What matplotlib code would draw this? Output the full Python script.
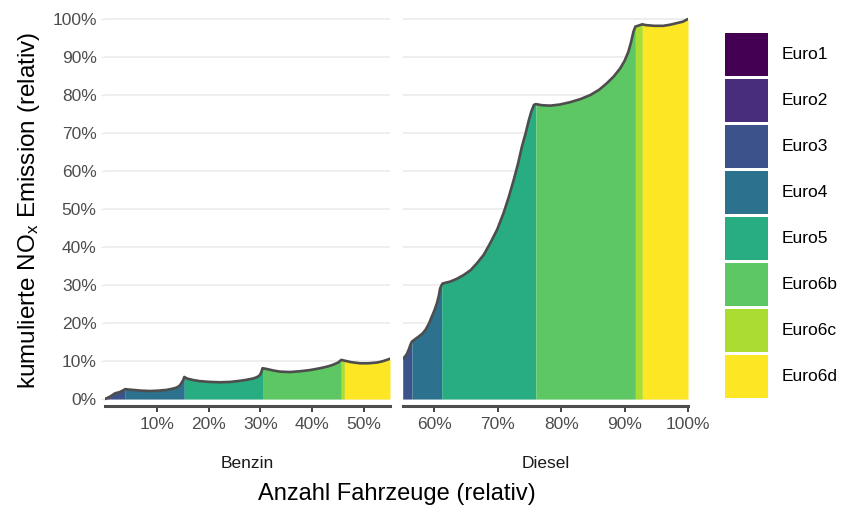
import matplotlib
matplotlib.use('Agg')
import matplotlib.pyplot as plt
from matplotlib.patches import Rectangle
from matplotlib.ticker import FuncFormatter

plt.rcParams['font.family'] = ['Liberation Sans', 'DejaVu Sans']
plt.rcParams['mathtext.default'] = 'regular'

# Klassen und Farben (viridis)
classes = ['Euro1', 'Euro2', 'Euro3', 'Euro4', 'Euro5', 'Euro6b', 'Euro6c', 'Euro6d']
colors = ['#440154', '#472D7B', '#3B528B', '#2C728E', '#27AD81', '#5DC863', '#AADC32', '#FDE725']

# Benzin: kumulierte Kurve (x = Anzahl %, y = NOx %)
benzin_x = [0.0, 0.3, 1.0, 1.95, 2.8, 3.4, 3.9,
            4.5, 5.4, 7.0, 8.7, 10.3, 11.9, 13.0, 13.8, 14.4, 14.8, 15.1, 15.3,
            15.8, 17.0, 18.3, 20.2, 22.2, 24.2, 26.1, 27.5, 28.6, 29.4, 29.9, 30.2, 30.4,
            31.2, 32.5, 33.8, 35.7, 37.6, 39.5, 41.5, 42.8, 43.8, 44.5, 45.0, 45.6,
            46.2, 47.5, 49.2, 50.8, 52.5, 53.5, 54.4, 55.0]
benzin_y = [0.0, 0.2, 0.65, 1.5, 1.8, 2.2, 2.6,
            2.5, 2.4, 2.2, 2.1, 2.2, 2.4, 2.7, 3.0, 3.5, 4.3, 5.0, 5.8,
            5.4, 5.0, 4.7, 4.5, 4.4, 4.5, 4.8, 5.1, 5.4, 5.8, 6.3, 7.2, 8.1,
            7.9, 7.5, 7.2, 7.1, 7.3, 7.6, 8.1, 8.5, 8.9, 9.3, 9.6, 10.3,
            10.1, 9.7, 9.4, 9.4, 9.6, 9.9, 10.3, 10.6]
benzin_breaks = [0.0, 0.3, 1.0, 3.9, 15.3, 30.4, 45.6, 46.2, 55.0]
benzin_classes = ['Euro1', 'Euro2', 'Euro3', 'Euro4', 'Euro5', 'Euro6b', 'Euro6c', 'Euro6d']

# Diesel
diesel_x = [55.0, 55.4, 55.7, 56.0, 56.2, 56.45,
            57.0, 57.5, 58.1, 58.6, 59.1, 59.6, 60.0, 60.4, 60.7, 60.9, 61.15,
            61.3, 62.5, 63.5, 64.6, 65.7, 66.7, 67.8, 68.8, 69.9, 70.9, 71.7,
            72.5, 73.2, 73.8, 74.4, 74.9, 75.3, 75.7, 76.0,
            77.0, 78.3, 79.8, 81.4, 83.0, 84.6, 86.0, 87.2, 88.3, 89.3, 90.0,
            90.6, 91.0, 91.4, 91.7,
            92.8, 93.3, 94.7, 96.1, 97.2, 98.2, 99.2, 100.0]
diesel_y = [10.6, 11.2, 12.0, 13.2, 14.2, 15.1,
            15.8, 16.4, 17.2, 18.2, 19.7, 21.7, 23.3, 25.2, 27.2, 29.1, 30.0,
            30.4, 30.9, 31.6, 32.6, 33.9, 35.7, 38.0, 41.0, 44.6, 48.9, 53.0,
            57.6, 62.0, 66.4, 70.0, 73.4, 75.7, 77.4, 77.6,
            77.3, 77.2, 77.5, 78.1, 78.9, 80.0, 81.4, 83.1, 84.9, 87.0, 89.0,
            91.4, 93.8, 96.7, 98.0,
            98.6, 98.4, 98.2, 98.2, 98.5, 98.9, 99.3, 100.0]
diesel_breaks = [55.0, 56.45, 61.15, 76.0, 91.7, 92.8, 100.0]
diesel_classes = ['Euro3', 'Euro4', 'Euro5', 'Euro6b', 'Euro6c', 'Euro6d']

W, H = 844, 507
fig = plt.figure(figsize=(W / 100, H / 100), dpi=100)


def px_axes(l, t, r, b):
    return fig.add_axes([l / W, 1 - b / H, (r - l) / W, (b - t) / H])


ax1 = px_axes(105, 12, 390, 406)
ax2 = px_axes(402.7, 12, 688, 406)


def draw(ax, xs, ys, breaks, cls):
    for a, b, c in zip(breaks[:-1], breaks[1:], cls):
        sx = [x for x in xs if a <= x <= b]
        sy = [y for x, y in zip(xs, ys) if a <= x <= b]
        ax.fill_between(sx, 0, sy, color=colors[classes.index(c)], lw=0, zorder=2)
    ax.plot(xs, ys, color='#4D4D4D', lw=1.9, zorder=3, solid_joinstyle='round',
            solid_capstyle='round')


draw(ax1, benzin_x, benzin_y, benzin_breaks, benzin_classes)
draw(ax2, diesel_x, diesel_y, diesel_breaks, diesel_classes)

pct = FuncFormatter(lambda v, _: f'{v:.0f}%')
for ax in (ax1, ax2):
    ax.set_ylim(-1.84, 101.84)
    ax.set_yticks(range(0, 101, 10))
    ax.yaxis.set_major_formatter(pct)
    ax.xaxis.set_major_formatter(pct)
    ax.grid(axis='y', color='#EBEBEB', lw=1.2, zorder=0)
    ax.set_axisbelow(True)
    for s in ['top', 'right', 'left']:
        ax.spines[s].set_visible(False)
    ax.spines['bottom'].set_color('#4D4D4D')
    ax.spines['bottom'].set_linewidth(2.2)
    ax.tick_params(axis='x', length=4, width=1.2, color='#222222',
                   labelcolor='#4D4D4D', labelsize=12.5, pad=4)
    ax.set_facecolor('none')

ax1.set_xlim(0, 55)
ax1.set_xticks([10, 20, 30, 40, 50])
ax2.set_xlim(55, 100)
ax2.set_xticks([60, 70, 80, 90, 100])

ax1.tick_params(axis='y', length=3, width=1, color='#EBEBEB',
                labelcolor='#4D4D4D', labelsize=12.5, pad=3)
ax2.tick_params(axis='y', length=0, labelleft=False)

# Facetten-Beschriftung unten
ax1.set_xlabel('Benzin', fontsize=12.5, color='#1A1A1A', labelpad=17)
ax2.set_xlabel('Diesel', fontsize=12.5, color='#1A1A1A', labelpad=17)

fig.text(396.5 / W, 1 - 494 / H, 'Anzahl Fahrzeuge (relativ)', fontsize=17,
         ha='center', va='center')
fig.text(29 / W, 1 - 210 / H, 'kumulierte NO$_x$ Emission (relativ)', fontsize=17.5,
         ha='center', va='center', rotation=90)

# Legende
for i, (c, l) in enumerate(zip(colors, classes)):
    top = 33.3 + 46 * i
    fig.add_artist(Rectangle((725 / W, 1 - (top + 42.5) / H), 43 / W, 42.5 / H,
                             transform=fig.transFigure, facecolor=c, edgecolor='none'))
    fig.text(781.5 / W, 1 - (top + 21.25) / H, l, fontsize=12.5, va='center', ha='left')

fig.savefig('out.png', dpi=100)
